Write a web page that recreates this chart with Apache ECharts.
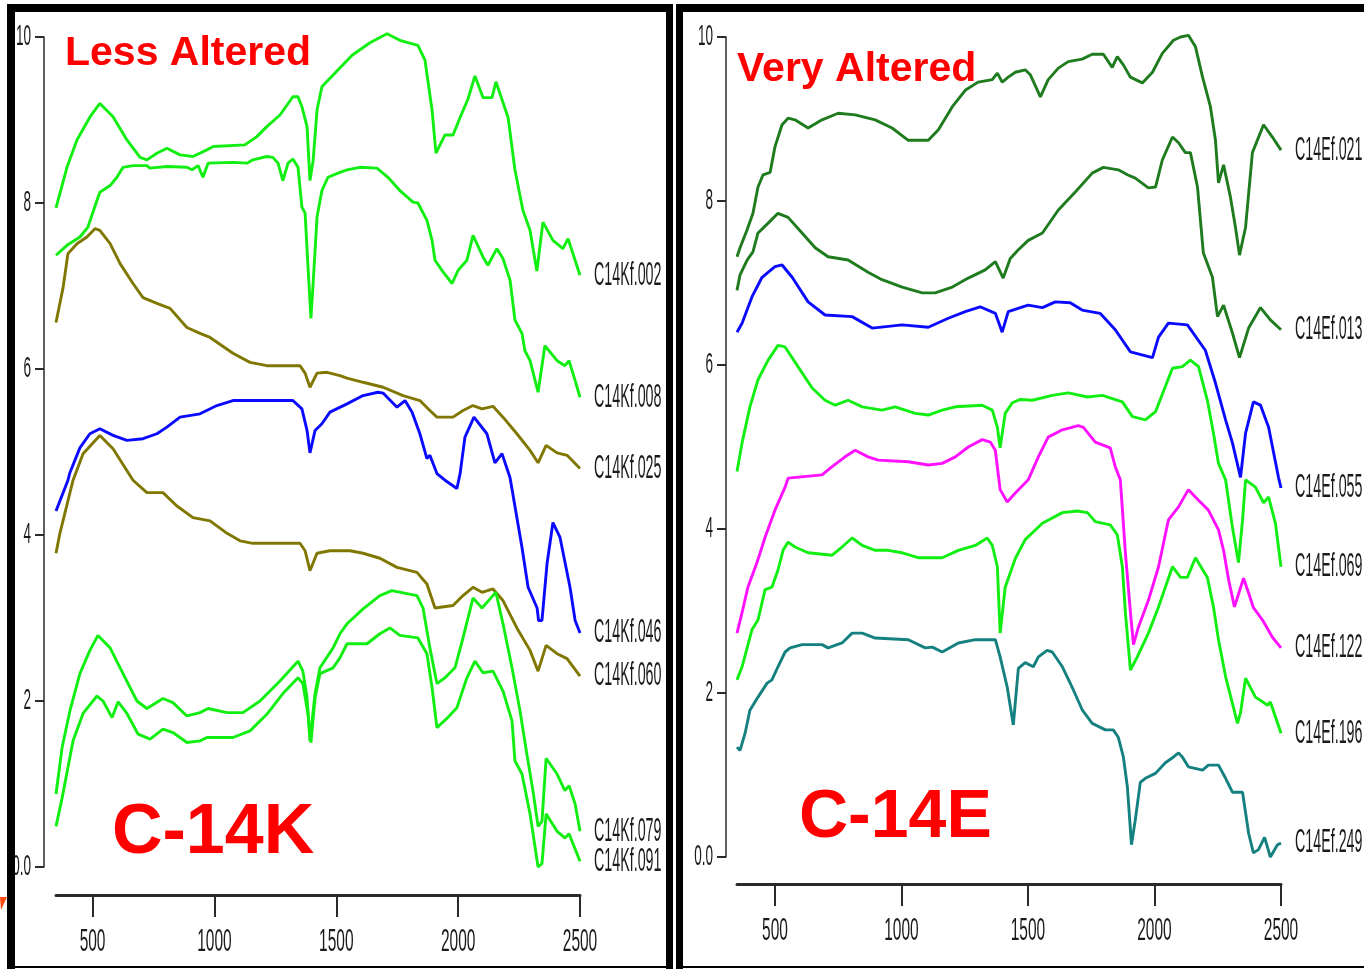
<!DOCTYPE html>
<html>
<head>
<meta charset="utf-8">
<title>C-14K / C-14E spectra</title>
<script src="https://cdn.jsdelivr.net/npm/echarts@6/dist/echarts.min.js"></script>
<style>
  html, body { margin: 0; padding: 0; background: #fff; }
  #main { width: 1364px; height: 969px; }
</style>
</head>
<body>
<div id="main"></div>
<script>
"use strict";

// x ticks (wavelength, nm) and y ticks
const xTicks = [500, 1000, 1500, 2000, 2500];
const yTicks = [0, 2, 4, 6, 8, 10];

// ---- C-14K (less altered) : [wavelength, value]
const c14kf002 = [[350,7.94],[395,8.43],[436,8.76],[490,9.04],[530,9.2],[584,9.04],[641,8.76],[695,8.55],[723,8.52],[764,8.6],[805,8.66],[859,8.58],[912,8.56],[969,8.64],[995,8.68],[1125,8.7],[1174,8.8],[1215,8.92],[1269,9.06],[1322,9.28],[1343,9.28],[1359,9.16],[1380,8.92],[1392,8.27],[1405,8.51],[1421,9.12],[1441,9.4],[1480,9.52],[1565,9.78],[1638,9.93],[1708,10.04],[1761,9.96],[1835,9.9],[1864,9.72],[1893,9.12],[1909,8.6],[1946,8.82],[1979,8.82],[2008,9.03],[2040,9.25],[2069,9.53],[2102,9.27],[2139,9.27],[2155,9.46],[2205,9.03],[2233,8.4],[2266,7.91],[2295,7.67],[2323,7.18],[2348,7.77],[2389,7.55],[2430,7.45],[2451,7.57],[2500,7.13]];
const c14kf008 = [[350,7.37],[395,7.49],[448,7.59],[481,7.71],[518,8.03],[530,8.13],[572,8.21],[600,8.31],[625,8.43],[666,8.45],[723,8.45],[735,8.42],[805,8.44],[887,8.43],[908,8.4],[933,8.45],[953,8.31],[974,8.48],[1076,8.49],[1134,8.48],[1158,8.52],[1215,8.56],[1240,8.55],[1261,8.48],[1281,8.27],[1302,8.48],[1322,8.53],[1343,8.43],[1359,7.95],[1372,7.88],[1384,7.23],[1396,6.61],[1405,7.03],[1421,7.83],[1441,8.15],[1466,8.31],[1515,8.37],[1544,8.4],[1597,8.43],[1667,8.42],[1712,8.31],[1761,8.15],[1815,8.01],[1835,8.0],[1872,7.79],[1893,7.55],[1905,7.31],[1938,7.17],[1975,7.03],[2000,7.19],[2036,7.31],[2061,7.61],[2102,7.35],[2122,7.25],[2159,7.45],[2184,7.33],[2213,7.07],[2233,6.59],[2262,6.43],[2274,6.22],[2295,6.1],[2328,5.72],[2356,6.28],[2406,6.1],[2438,6.04],[2455,6.1],[2480,5.86],[2500,5.66]];
const c14kf025 = [[350,6.56],[379,6.98],[399,7.39],[436,7.51],[477,7.59],[510,7.69],[530,7.67],[572,7.51],[613,7.27],[666,7.03],[707,6.86],[764,6.79],[818,6.73],[887,6.5],[941,6.43],[982,6.38],[1076,6.19],[1146,6.08],[1215,6.04],[1351,6.04],[1372,5.95],[1392,5.78],[1421,5.95],[1462,5.96],[1515,5.92],[1544,5.89],[1610,5.84],[1692,5.78],[1774,5.68],[1843,5.62],[1884,5.5],[1913,5.42],[1979,5.42],[2020,5.5],[2061,5.56],[2098,5.52],[2143,5.55],[2184,5.42],[2241,5.22],[2295,5.02],[2328,4.87],[2361,5.08],[2406,4.99],[2447,4.96],[2500,4.8]];
const c14kf046 = [[350,4.29],[399,4.66],[407,4.75],[448,5.05],[489,5.22],[530,5.28],[584,5.2],[641,5.14],[707,5.16],[764,5.22],[805,5.3],[859,5.42],[941,5.46],[1010,5.56],[1076,5.62],[1322,5.62],[1359,5.52],[1380,5.26],[1392,4.99],[1413,5.26],[1441,5.34],[1474,5.48],[1544,5.58],[1610,5.68],[1671,5.72],[1692,5.71],[1749,5.54],[1782,5.62],[1811,5.48],[1843,5.22],[1872,4.92],[1884,4.96],[1913,4.74],[1946,4.66],[1995,4.56],[2008,4.74],[2028,5.18],[2065,5.42],[2118,5.22],[2151,4.87],[2180,4.98],[2213,4.69],[2262,3.85],[2287,3.37],[2324,3.12],[2330,2.97],[2344,2.97],[2365,3.66],[2389,4.15],[2418,3.97],[2459,3.37],[2480,2.97],[2500,2.82]];
const c14kf060 = [[350,3.78],[366,4.02],[399,4.41],[420,4.66],[461,4.98],[530,5.2],[584,5.04],[666,4.66],[723,4.51],[789,4.51],[846,4.35],[912,4.21],[982,4.17],[1052,4.02],[1105,3.93],[1158,3.9],[1351,3.9],[1372,3.81],[1392,3.57],[1421,3.78],[1474,3.81],[1556,3.81],[1610,3.78],[1679,3.72],[1749,3.61],[1831,3.55],[1872,3.41],[1905,3.12],[1979,3.15],[2020,3.27],[2061,3.37],[2098,3.31],[2143,3.35],[2184,3.21],[2241,2.88],[2295,2.61],[2328,2.36],[2361,2.67],[2406,2.57],[2447,2.51],[2500,2.3]];
const c14kf079 = [[350,0.88],[375,1.44],[407,1.88],[448,2.33],[489,2.61],[522,2.79],[572,2.64],[625,2.33],[682,2.0],[723,1.91],[789,2.03],[830,1.98],[887,1.82],[941,1.86],[974,1.91],[1052,1.86],[1117,1.86],[1187,2.0],[1269,2.24],[1343,2.48],[1363,2.36],[1380,2.04],[1392,1.52],[1413,2.09],[1433,2.4],[1487,2.64],[1515,2.81],[1544,2.93],[1610,3.11],[1679,3.27],[1728,3.33],[1831,3.27],[1856,3.12],[1884,2.64],[1913,2.21],[1946,2.28],[1987,2.4],[2020,2.76],[2061,3.24],[2098,3.12],[2131,3.23],[2155,3.31],[2184,2.93],[2221,2.4],[2254,1.88],[2282,1.36],[2307,0.92],[2328,0.49],[2344,0.55],[2361,1.31],[2406,1.12],[2438,0.92],[2455,0.98],[2480,0.76],[2500,0.43]];
const c14kf091 = [[350,0.49],[375,0.83],[420,1.52],[461,1.85],[518,2.06],[543,2.0],[580,1.8],[605,1.99],[641,1.85],[687,1.6],[736,1.54],[789,1.66],[830,1.62],[887,1.5],[941,1.52],[969,1.56],[1076,1.56],[1146,1.64],[1215,1.84],[1281,2.09],[1343,2.28],[1363,2.21],[1384,1.84],[1396,1.5],[1413,2.04],[1433,2.33],[1487,2.4],[1515,2.52],[1544,2.69],[1626,2.69],[1679,2.81],[1720,2.88],[1761,2.79],[1835,2.76],[1872,2.57],[1893,2.16],[1913,1.68],[1954,1.79],[1995,1.92],[2036,2.28],[2069,2.48],[2102,2.34],[2143,2.36],[2184,2.12],[2221,1.76],[2233,1.28],[2262,1.12],[2295,0.64],[2328,0.0],[2344,0.04],[2361,0.64],[2406,0.43],[2438,0.35],[2455,0.4],[2500,0.07]];

// ---- C-14E (very altered)
const c14ef021 = [[350,7.32],[362,7.43],[390,7.65],[413,7.85],[433,8.17],[453,8.32],[481,8.35],[500,8.66],[528,8.93],[552,9.01],[579,8.99],[631,8.89],[686,8.99],[750,9.07],[817,9.05],[896,8.99],[963,8.89],[1027,8.74],[1106,8.74],[1146,8.87],[1201,9.15],[1252,9.35],[1303,9.45],[1359,9.48],[1379,9.56],[1398,9.45],[1422,9.51],[1450,9.57],[1489,9.6],[1509,9.54],[1549,9.27],[1580,9.48],[1620,9.62],[1659,9.7],[1714,9.73],[1754,9.79],[1798,9.79],[1833,9.63],[1853,9.76],[1877,9.66],[1905,9.51],[1952,9.44],[1992,9.57],[2031,9.8],[2075,9.96],[2103,10.0],[2134,10.02],[2162,9.88],[2190,9.51],[2221,9.15],[2241,8.74],[2253,8.22],[2273,8.44],[2300,8.05],[2320,7.68],[2336,7.34],[2360,7.68],[2387,8.59],[2431,8.93],[2466,8.78],[2500,8.62]];
const c14ef013 = [[350,6.91],[362,7.1],[390,7.28],[413,7.38],[433,7.61],[473,7.73],[512,7.85],[552,7.8],[607,7.61],[659,7.43],[710,7.32],[789,7.28],[868,7.13],[923,7.04],[1003,6.95],[1082,6.88],[1133,6.88],[1201,6.95],[1264,7.06],[1331,7.16],[1371,7.26],[1402,7.06],[1430,7.3],[1460,7.4],[1501,7.52],[1557,7.61],[1620,7.89],[1687,8.11],[1754,8.34],[1798,8.41],[1857,8.38],[1893,8.32],[1924,8.28],[1976,8.16],[2004,8.17],[2031,8.5],[2071,8.78],[2095,8.71],[2122,8.59],[2142,8.59],[2170,8.17],[2193,7.37],[2229,7.07],[2249,6.59],[2273,6.73],[2308,6.39],[2336,6.09],[2372,6.45],[2419,6.7],[2458,6.55],[2500,6.43]];
const c14ef055 = [[350,6.4],[370,6.51],[409,6.83],[449,7.07],[500,7.2],[528,7.22],[568,7.07],[631,6.77],[698,6.61],[805,6.59],[884,6.45],[1003,6.49],[1106,6.46],[1185,6.57],[1252,6.65],[1311,6.71],[1371,6.63],[1398,6.4],[1422,6.65],[1470,6.7],[1501,6.73],[1557,6.7],[1608,6.77],[1667,6.76],[1714,6.67],[1785,6.63],[1845,6.43],[1905,6.16],[1992,6.09],[2016,6.34],[2055,6.51],[2130,6.49],[2201,6.18],[2241,5.78],[2281,5.33],[2308,5.05],[2340,4.63],[2360,5.17],[2391,5.55],[2419,5.51],[2451,5.24],[2490,4.63],[2500,4.5]];
const c14ef069 = [[350,4.7],[370,5.05],[401,5.49],[433,5.82],[473,6.06],[512,6.24],[540,6.22],[591,5.98],[647,5.72],[698,5.57],[738,5.51],[789,5.57],[845,5.49],[923,5.45],[975,5.49],[1054,5.41],[1106,5.39],[1161,5.45],[1213,5.49],[1319,5.51],[1359,5.45],[1379,5.24],[1390,4.99],[1410,5.41],[1438,5.54],[1470,5.58],[1517,5.57],[1596,5.63],[1659,5.66],[1735,5.61],[1794,5.63],[1873,5.55],[1913,5.37],[1964,5.33],[2004,5.43],[2071,5.96],[2110,5.98],[2142,6.06],[2174,5.98],[2209,5.57],[2233,5.17],[2253,4.8],[2281,4.6],[2308,4.02],[2332,3.59],[2348,4.11],[2360,4.6],[2399,4.51],[2431,4.32],[2451,4.39],[2478,4.07],[2500,3.54]];
const c14ef122 = [[350,2.73],[370,2.98],[393,3.29],[429,3.59],[461,3.9],[500,4.23],[540,4.51],[552,4.62],[686,4.66],[726,4.76],[777,4.88],[817,4.96],[868,4.88],[908,4.84],[1027,4.82],[1106,4.78],[1161,4.8],[1213,4.88],[1264,5.0],[1319,5.09],[1351,5.06],[1371,4.96],[1382,4.68],[1390,4.48],[1418,4.33],[1450,4.44],[1501,4.6],[1541,4.88],[1580,5.12],[1636,5.21],[1699,5.26],[1719,5.24],[1766,5.06],[1825,4.99],[1845,4.76],[1865,4.6],[1885,3.71],[1905,2.98],[1917,2.59],[1936,2.8],[1976,3.13],[2016,3.54],[2055,4.11],[2095,4.27],[2134,4.48],[2174,4.35],[2213,4.23],[2253,3.99],[2273,3.74],[2293,3.38],[2316,3.05],[2352,3.4],[2372,3.22],[2391,3.04],[2427,2.89],[2466,2.68],[2500,2.55]];
const c14ef196 = [[350,2.16],[370,2.32],[409,2.77],[433,2.89],[461,3.26],[488,3.29],[512,3.5],[532,3.74],[552,3.84],[579,3.78],[631,3.71],[726,3.68],[765,3.78],[805,3.89],[845,3.8],[896,3.74],[947,3.74],[1003,3.71],[1066,3.65],[1161,3.65],[1225,3.74],[1292,3.8],[1339,3.89],[1359,3.8],[1379,3.54],[1390,2.73],[1410,3.29],[1450,3.64],[1489,3.87],[1557,4.07],[1636,4.2],[1695,4.22],[1735,4.2],[1766,4.09],[1825,4.05],[1853,3.93],[1873,3.54],[1885,2.98],[1905,2.28],[1932,2.44],[1976,2.73],[2016,3.05],[2071,3.54],[2103,3.41],[2130,3.41],[2162,3.65],[2209,3.41],[2233,3.05],[2253,2.65],[2281,2.2],[2328,1.63],[2340,1.76],[2360,2.18],[2399,1.95],[2447,1.85],[2458,1.89],[2478,1.71],[2500,1.51]];
const c14ef249 = [[350,1.34],[362,1.3],[382,1.51],[401,1.79],[433,1.95],[469,2.12],[488,2.16],[512,2.32],[540,2.5],[560,2.55],[607,2.59],[686,2.59],[710,2.55],[765,2.61],[805,2.73],[845,2.73],[896,2.67],[1027,2.65],[1094,2.55],[1122,2.56],[1161,2.5],[1225,2.61],[1292,2.65],[1371,2.65],[1390,2.44],[1418,2.07],[1442,1.61],[1462,2.3],[1489,2.37],[1521,2.32],[1541,2.44],[1576,2.52],[1596,2.5],[1636,2.32],[1679,2.04],[1715,1.79],[1754,1.63],[1806,1.55],[1837,1.55],[1857,1.46],[1877,1.22],[1893,0.85],[1909,0.15],[1924,0.45],[1944,0.91],[1964,0.96],[2004,1.02],[2043,1.15],[2071,1.21],[2095,1.27],[2110,1.22],[2134,1.1],[2190,1.06],[2213,1.12],[2253,1.12],[2281,0.96],[2308,0.79],[2348,0.79],[2372,0.29],[2391,0.05],[2411,0.09],[2435,0.24],[2458,0.0],[2486,0.15],[2500,0.17]];

// 线色
const GREEN = "#11ee11";
const OLIVE = "#807700";
const BLUE = "#0a0aff";
const DKGREEN = "#1e7b1e";
const MAGENTA = "#ff11ff";
const TEAL = "#14807f";

const thinFont = "'Liberation Sans', Arial, sans-serif";
const boldFont = "'Liberation Sans', Arial, sans-serif";

const leftSeries = [
  { name: "C14Kf.002", data: c14kf002, color: GREEN },
  { name: "C14Kf.008", data: c14kf008, color: GREEN },
  { name: "C14Kf.025", data: c14kf025, color: OLIVE },
  { name: "C14Kf.046", data: c14kf046, color: BLUE },
  { name: "C14Kf.060", data: c14kf060, color: OLIVE },
  { name: "C14Kf.079", data: c14kf079, color: GREEN },
  { name: "C14Kf.091", data: c14kf091, color: GREEN },
];
const rightSeries = [
  { name: "C14Ef.021", data: c14ef021, color: DKGREEN },
  { name: "C14Ef.013", data: c14ef013, color: DKGREEN },
  { name: "C14Ef.055", data: c14ef055, color: BLUE },
  { name: "C14Ef.069", data: c14ef069, color: GREEN },
  { name: "C14Ef.122", data: c14ef122, color: MAGENTA },
  { name: "C14Ef.196", data: c14ef196, color: GREEN },
  { name: "C14Ef.249", data: c14ef249, color: TEAL },
];

const xOffsets = [28, 27];
const yOffsets = [12, 11];

// 轴配置（刻度标签用下方的窄体文字画）
const makeX = (gridIndex) => ({
  type: "value",
  gridIndex,
  min: 350,
  max: 2500,
  offset: xOffsets[gridIndex],
  splitLine: { show: false },
  axisLine: { show: true, onZero: false, lineStyle: { color: "#2a2a2a", width: 3 } },
  axisTick: { show: true, length: 22, customValues: xTicks, lineStyle: { color: "#2a2a2a", width: 2 } },
  axisLabel: { show: false },
});
const makeY = (gridIndex) => ({
  type: "value",
  gridIndex,
  min: yTicks[0],
  max: yTicks[yTicks.length - 1],
  interval: 2,
  offset: yOffsets[gridIndex],
  splitLine: { show: false },
  axisLine: { show: true, onZero: false, lineStyle: { color: "#2a2a2a", width: 1.5 } },
  axisTick: { show: true, length: 9, lineStyle: { color: "#2a2a2a", width: 2 } },
  axisLabel: { show: false },
});

const toLine = (s, idx) => ({
  name: s.name,
  type: "line",
  xAxisIndex: idx,
  yAxisIndex: idx,
  data: s.data,
  showSymbol: false,
  clip: false,
  lineStyle: { color: s.color, width: 2.9 },
  itemStyle: { color: s.color },
  emphasis: { disabled: true },
});

// 边框
const frame = (x, y, w, h) => ({
  type: "rect",
  shape: { x, y, width: w, height: h },
  style: { fill: "#000" },
  z: 100,
  silent: true,
});
const bigText = (text, x, y, size) => ({
  type: "text",
  x,
  y,
  z: 90,
  style: {
    text,
    fill: "#ff0000",
    font: `bold ${size}px ${boldFont}`,
    verticalAlign: "middle",
    align: "left",
  },
});
// 压扁的细字（原图是拉长的窄字体）
const thinText = (text, x, y, size, sx, align) => ({
  type: "text",
  x,
  y,
  scaleX: sx,
  scaleY: 1,
  z: 95,
  silent: true,
  style: {
    text,
    fill: "#1a1a1a",
    font: `${size}px ${thinFont}`,
    verticalAlign: "middle",
    align,
  },
});

const decor = [
  // left panel frame
  frame(7, 4, 8, 965),
  frame(7, 4, 666, 8),
  frame(666, 4, 7, 965),
  frame(7, 966, 666, 2),
  // right panel frame
  frame(676, 4, 7, 965),
  frame(676, 4, 688, 8),
  frame(676, 966, 688, 2),
  {
    type: "polygon",
    shape: { points: [[0, 897], [7, 897], [1, 910]] },
    style: { fill: "#ff4a10" },
    z: 100,
  },
  bigText("Less Altered", 65, 54, 41),
  bigText("Very Altered", 737, 70, 41),
  bigText("C-14K", 112, 834, 70),
  bigText("C-14E", 799, 818, 68),
];

const chart = echarts.init(document.getElementById("main"));
chart.setOption({
  animation: false,
  backgroundColor: "#ffffff",
  grid: [
    { left: 56, top: 37, width: 524, height: 830, containLabel: false, outerBoundsMode: "none" },
    { left: 737, top: 37, width: 544, height: 820, containLabel: false, outerBoundsMode: "none" },
  ],
  xAxis: [makeX(0), makeX(1)],
  yAxis: [makeY(0), makeY(1)],
  series: [
    ...leftSeries.map((s) => toLine(s, 0)),
    ...rightSeries.map((s) => toLine(s, 1)),
  ],
});

// 标签位置由坐标轴换算
const labels = [];
[leftSeries, rightSeries].forEach((list, gi) => {
  list.forEach((s) => {
    const last = s.data[s.data.length - 1];
    const [px, py] = chart.convertToPixel({ gridIndex: gi }, last);
    labels.push(thinText(s.name, px + 14, py, 34, 0.42, "left"));
  });
  xTicks.forEach((v) => {
    const [px, py] = chart.convertToPixel({ gridIndex: gi }, [v, 0]);
    labels.push(thinText(String(v), px, py + xOffsets[gi] + 47, 31, 0.5, "center"));
  });
  yTicks.forEach((v) => {
    const [px, py] = chart.convertToPixel({ gridIndex: gi }, [350, v]);
    labels.push(thinText(v === 0 ? "0.0" : String(v), px - yOffsets[gi] - 13, py, 30, 0.45, "right"));
  });
});

chart.setOption({ graphic: [...decor, ...labels] });
</script>
</body>
</html>
